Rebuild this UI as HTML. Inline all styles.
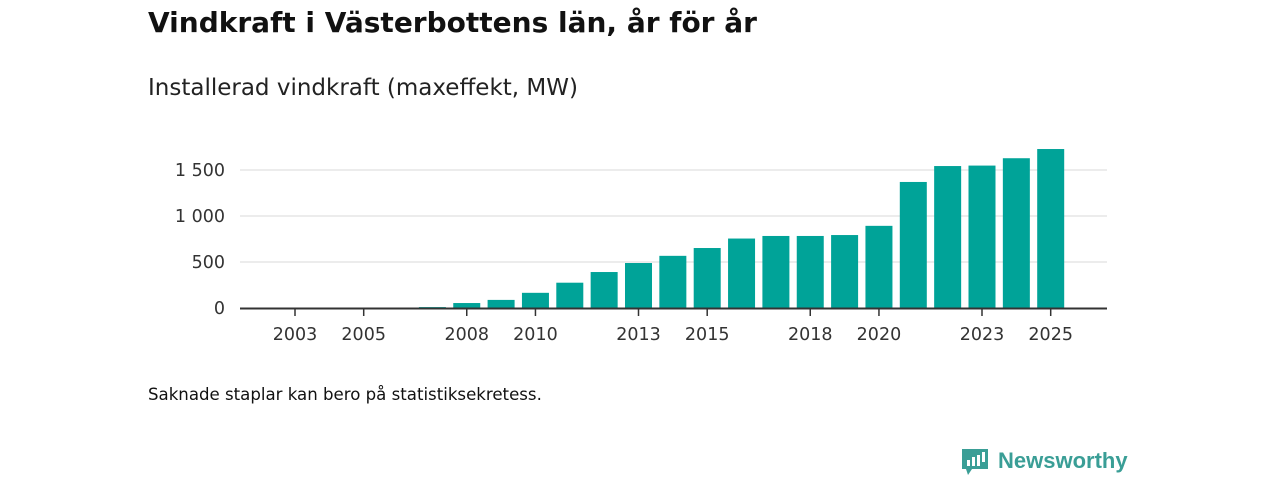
<!DOCTYPE html>
<html><head><meta charset="utf-8"><style>
body{margin:0;background:#fff;font-family:"DejaVu Sans","Liberation Sans",sans-serif;}
svg text{font-family:"DejaVu Sans","Liberation Sans",sans-serif;}
</style></head><body>
<svg width="1280" height="480">
<text x="148" y="32" font-size="28" font-weight="bold" fill="#111">Vindkraft i Västerbottens län, år för år</text>
<text x="148" y="95" font-size="23" fill="#222">Installerad vindkraft (maxeffekt, MW)</text>
<g id="grid"></g>
<g id="bars"></g>
<g id="xaxis"></g>
<g id="yaxis"></g>
<text x="148" y="400" font-size="16.6" fill="#111">Saknade staplar kan bero på statistiksekretess.</text>
<g>
<path d="M962 449 h26 v20 h-16 l-4 6 l-2 -6 h-4 z" fill="#3a9e96"/>
<rect x="967" y="460" width="3" height="6" fill="#fff"/>
<rect x="972" y="457" width="3" height="9" fill="#fff"/>
<rect x="977" y="455" width="3" height="11" fill="#fff"/>
<rect x="982" y="452" width="3" height="10" fill="#fff"/>
<text x="998" y="468" font-size="22" font-weight="bold" fill="#3a9e96" style="font-family:'Liberation Sans',sans-serif">Newsworthy</text>
</g>
</svg>
<script>
const years=[2003,2004,2005,2006,2007,2008,2009,2010,2011,2012,2013,2014,2015,2016,2017,2018,2019,2020,2021,2022,2023,2024,2025];
const values=[0,0,0,0,10,54,88,165,275,391,489,567,652,755,783,783,793,893,1370,1543,1548,1628,1728];
const yTicks=[0,500,1000,1500];
const yTickLabels=["0","500","1 000","1 500"];
const xTicks=[2003,2005,2008,2010,2013,2015,2018,2020,2023,2025];
const ns="http://www.w3.org/2000/svg";
const X=y=>295+(y-2003)*34.35;
const Y=v=>308-v*46/500;
function mk(t,a,p){const e=document.createElementNS(ns,t);for(const k in a)e.setAttribute(k,a[k]);p.appendChild(e);return e;}
const g=document.getElementById('grid'),b=document.getElementById('bars'),xa=document.getElementById('xaxis'),ya=document.getElementById('yaxis');
yTicks.forEach((v,i)=>{
 if(v>0){const l=mk('line',{x1:240,x2:1107,y1:Y(v),y2:Y(v),stroke:'#d9d9d9','stroke-width':1},g);
 
 }
 const t=mk('text',{x:225,y:Y(v)+6,'text-anchor':'end','font-size':17.5,fill:'#333'},ya);t.textContent=yTickLabels[i];
 
 
});
years.forEach((yr,i)=>{
 const v=values[i];if(v<=0)return;
 const r=mk('rect',{x:X(yr)-13.5,y:Y(v),width:27,height:308-Y(v),fill:'#00a398'},b);
 
 
});
mk('line',{x1:240,x2:1107,y1:308.5,y2:308.5,stroke:'#333','stroke-width':2},xa);
xTicks.forEach(yr=>{
 mk('line',{x1:X(yr),x2:X(yr),y1:309,y2:316,stroke:'#333','stroke-width':1.5},xa);
 const t=mk('text',{x:X(yr),y:340,'text-anchor':'middle','font-size':17.5,fill:'#333'},xa);t.textContent=yr;
 
 
});
</script>
</body></html>
